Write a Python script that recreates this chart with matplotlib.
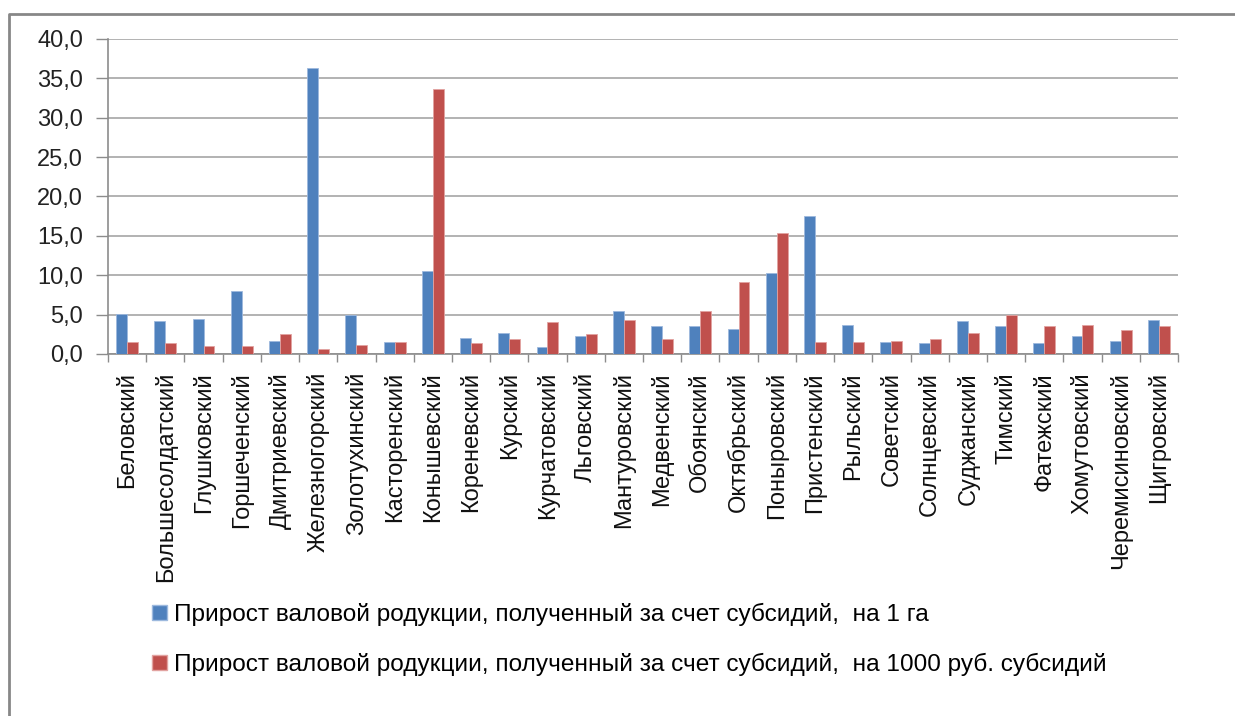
import matplotlib
matplotlib.use("Agg")
import matplotlib.pyplot as plt
import numpy as np
from matplotlib.lines import Line2D
from matplotlib.patches import Patch

categories = ["Беловский", "Большесолдатский", "Глушковский", "Горшеченский", "Дмитриевский",
              "Железногорский", "Золотухинский", "Касторенский", "Конышевский", "Кореневский",
              "Курский", "Курчатовский", "Льговский", "Мантуровский", "Медвенский", "Обоянский",
              "Октябрьский", "Поныровский", "Пристенский", "Рыльский", "Советский", "Солнцевский",
              "Суджанский", "Тимский", "Фатежский", "Хомутовский", "Черемисиновский", "Щигровский"]
per_ha = [5.1, 4.15, 4.45, 8.0, 1.7, 36.3, 5.0, 1.5, 10.6, 2.0,
          2.7, 0.85, 2.3, 5.4, 3.5, 3.5, 3.15, 10.3, 17.5, 3.65,
          1.5, 1.35, 4.15, 3.5, 1.35, 2.3, 1.7, 4.3]
per_1000 = [1.5, 1.35, 1.0, 1.0, 2.5, 0.6, 1.2, 1.5, 33.6, 1.35,
            1.85, 4.0, 2.5, 4.3, 1.85, 5.4, 9.15, 15.4, 1.5, 1.5,
            1.7, 1.85, 2.7, 4.95, 3.5, 3.65, 3.0, 3.5]
series_labels = ["Прирост валовой родукции, полученный за счет субсидий,  на 1 га",
                 "Прирост валовой родукции, полученный за счет субсидий,  на 1000 руб. субсидий"]
yticks = [0, 5, 10, 15, 20, 25, 30, 35, 40]

plt.rcParams['font.family'] = ['Liberation Sans', 'DejaVu Sans']

W, H = 1235, 716
fig = plt.figure(figsize=(W / 100, H / 100), dpi=100)
ax = fig.add_axes([108 / W, (H - 354) / H, (1178 - 108) / W, (354 - 39) / H])

blue = "#4F81BD"
red = "#C0504D"
x = np.arange(len(categories))
bw = 1 / 3.5
ax.bar(x - bw / 2, per_ha, bw, color=blue, edgecolor="#9DB9DE", linewidth=0.6, zorder=3)
ax.bar(x + bw / 2, per_1000, bw, color=red, edgecolor="#E2A3A1", linewidth=0.6, zorder=3)

fs = 17
ax.set_xlim(-0.5, len(categories) - 0.5)
ax.set_ylim(0, 40)
ax.set_yticks(yticks)
ax.set_yticklabels([f"{v:.1f}".replace(".", ",") for v in yticks], fontsize=fs, color="#222222")
ax.yaxis.grid(True, color="#A6A6A6", linewidth=1.2, zorder=0)
ax.set_axisbelow(True)

ax.set_xticks(np.arange(len(categories) + 1) - 0.5, minor=False)
ax.set_xticklabels([])
ax.set_xticks(x, minor=True)
ax.set_xticklabels(categories, minor=True, rotation=90, fontsize=fs, color="#111111", va="top")
ax.tick_params(axis="x", which="major", length=6, color="#8C8C8C", width=1)
ax.tick_params(axis="x", which="minor", length=0, pad=13)
ax.tick_params(axis="y", length=9, color="#8C8C8C", width=1, pad=9)

for s in ["top", "right"]:
    ax.spines[s].set_visible(False)
for s in ["left", "bottom"]:
    ax.spines[s].set_color("#8C8C8C")
    ax.spines[s].set_linewidth(1.2)

# outer chart border
fig.add_artist(Line2D([9 / W, 9 / W, 1.0], [0, 1 - 14 / H, 1 - 14 / H],
                      transform=fig.transFigure, color="#878787", linewidth=2))

handles = [Patch(facecolor=blue, edgecolor="#9DB9DE"), Patch(facecolor=red, edgecolor="#E2A3A1")]
fig.legend(handles, series_labels, loc="upper left", bbox_to_anchor=(152 / W, 1 - 603 / H),
           frameon=False, fontsize=17.6, handlelength=0.6, handleheight=0.6,
           handletextpad=0.3, labelspacing=1.1, borderaxespad=0, borderpad=0)

fig.savefig("out.png", dpi=100)
